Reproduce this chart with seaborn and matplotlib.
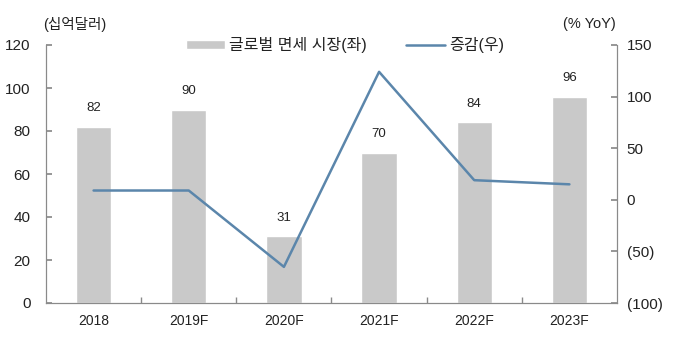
import numpy as np
import pandas as pd
import matplotlib
matplotlib.use("Agg")
import matplotlib.pyplot as plt
import seaborn as sns
from matplotlib.ticker import FixedLocator, FuncFormatter

years = ["2018", "2019F", "2020F", "2021F", "2022F", "2023F"]
market = [82, 90, 31, 70, 84, 96]
growth = [9, 9, -65, 124, 19, 15]
bar_label = "글로벌 면세 시장(좌)"
line_label = "증감(우)"

sns.set_theme(style="white")
plt.rcParams['font.family'] = ['Liberation Sans', 'Noto Sans CJK KR', 'DejaVu Sans']

df = pd.DataFrame({"year": years, "market": market, "growth": growth,
                   "pos": np.arange(len(years))})

fig = plt.figure(figsize=(6.8, 3.41), dpi=100)
ax = fig.add_axes([46/680, 1-303/341, (617-46)/680, (303-45)/341])

bar_color = "#c9c9c9"
line_color = "#5b86ab"
spine_color = "#8a8a8a"
text_color = "#222222"

sns.barplot(data=df, x="year", y="market", color=bar_color, width=0.37,
            saturation=1, ax=ax, label=bar_label)
ax.set_xlim(-0.5, len(years)-0.5)
ax.set_ylim(0, 120)
ax.set_yticks([0, 20, 40, 60, 80, 100, 120])
ax.set_xlabel("")
ax.set_ylabel("")

for i, v in enumerate(market):
    ax.text(i, v + 8.7, f"{v}", ha="center", va="center", fontsize=9.5, color=text_color)

ax2 = ax.twinx()
sns.lineplot(data=df, x="pos", y="growth", color=line_color, linewidth=1.8,
             ax=ax2, label=line_label, legend=False)
ax2.set_ylim(-100, 150)
ax2.set_yticks([-100, -50, 0, 50, 100, 150])
ax2.yaxis.set_major_formatter(FuncFormatter(lambda v, p: f"({abs(int(v))})" if v < 0 else f"{int(v)}"))
ax2.set_xlabel("")
ax2.set_ylabel("")
ax2.set_xlim(-0.5, len(years)-0.5)

for a in (ax, ax2):
    for s in a.spines.values():
        s.set_color(spine_color)
        s.set_linewidth(0.8)
    a.spines["top"].set_visible(False)

ax.tick_params(axis="y", direction="in", length=4, color=spine_color, labelsize=11,
               labelcolor=text_color, pad=11, left=True)
ax2.tick_params(axis="y", direction="in", length=4, color=spine_color, labelsize=11,
                labelcolor=text_color, pad=7, right=True)
ax.tick_params(axis="x", length=0, labelsize=10, labelcolor=text_color, pad=8)
ax.xaxis.set_minor_locator(FixedLocator(np.arange(0.5, len(years)-0.5, 1)))
ax.tick_params(axis="x", which="minor", direction="in", length=4, color=spine_color, bottom=True)

fig.text(43/680, 1-24/341, "(십억달러)", fontsize=10.5, color=text_color, ha="left", va="center")
fig.text(616/680, 1-24/341, "(% YoY)", fontsize=10.5, color=text_color, ha="right", va="center")

h1, l1 = ax.get_legend_handles_labels()
h2, l2 = ax2.get_legend_handles_labels()
if ax.get_legend():
    ax.get_legend().remove()
fig.legend(h1 + h2, l1 + l2, ncol=2, loc="center", bbox_to_anchor=(345/680, 1-45/341),
           frameon=False, fontsize=11.5, handlelength=2.45, handleheight=0.55,
           columnspacing=2.4, handletextpad=0.3, labelcolor=text_color)

fig.savefig("out.png", dpi=100)
